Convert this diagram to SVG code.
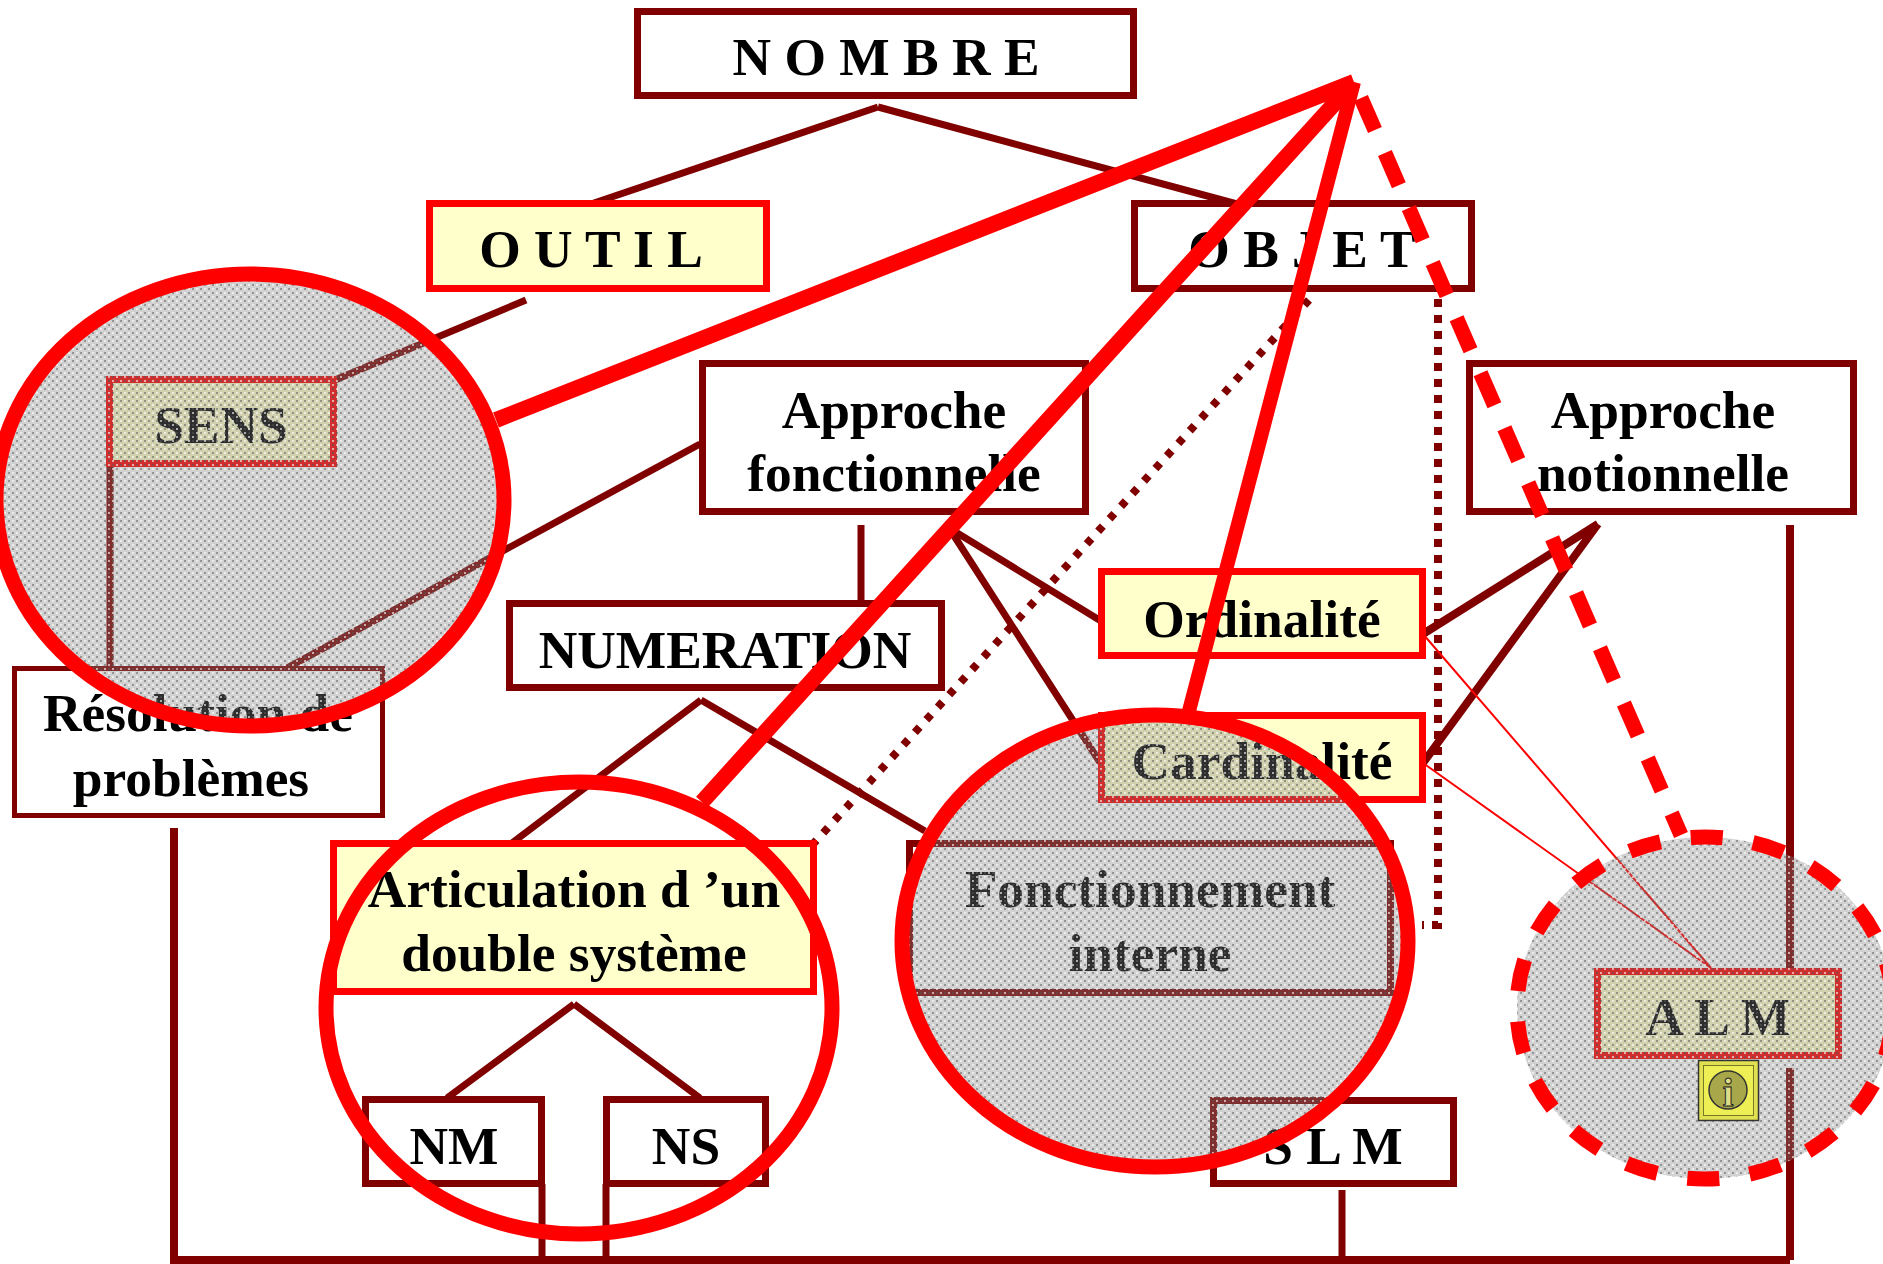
<svg xmlns="http://www.w3.org/2000/svg" width="1883" height="1264" viewBox="0 0 1883 1264">
<style>
text{font-family:"Liberation Serif","Times New Roman",serif;font-weight:bold;font-size:53.4px;fill:#000;text-anchor:middle}
.box{fill:#fff;stroke:#800000;stroke-width:7}
.thin{fill:#fff;stroke:#800000;stroke-width:5}
.hi{fill:#ffffcc;stroke:#ff0000;stroke-width:7}
.c{stroke:#800000;stroke-width:7;fill:none}
.w{stroke:#800000;stroke-width:8;fill:none}
.dot{stroke:#800000;stroke-width:8;fill:none;stroke-dasharray:7 10}
.dotv{stroke:#800000;stroke-width:8;fill:none;stroke-dasharray:8 8}
.tr{stroke:#ff0000;stroke-width:2;fill:none}
.r{stroke:#ff0000;stroke-width:16;fill:none}
.rf{stroke:#ff0000;stroke-width:14;fill:none}
.rd{stroke:#ff0000;stroke-width:15;fill:none;stroke-dasharray:35 25}
.call{fill:url(#hatch);stroke:#ff0000;stroke-width:15}
.calld{fill:url(#hatch);stroke:#ff0000;stroke-width:15;stroke-dasharray:32 30.67;stroke-dashoffset:-17}
</style>
<defs>
<pattern id="hatch" width="8" height="8" patternUnits="userSpaceOnUse">
<rect width="8" height="8" fill="#808080" fill-opacity="0.36"/>
<rect x="0" y="0" width="2" height="2" fill="#555" fill-opacity="0.5"/>
<rect x="4" y="4" width="2" height="2" fill="#555" fill-opacity="0.5"/>
<rect x="4" y="0" width="2" height="2" fill="#fff" fill-opacity="0.6"/>
<rect x="0" y="4" width="2" height="2" fill="#fff" fill-opacity="0.6"/>
</pattern>
</defs>
<g id="connectors">
<path class="c" d="M878 107L591 204M878 107L1237 204"/>
<path class="c" d="M526 300L335 380"/>
<path class="c" d="M110 467V668"/>
<path class="c" d="M700 444L287 668"/>
<path class="c" d="M861 525V603"/>
<path class="c" d="M949 528L1101 621M949 528L1101 764"/>
<path class="c" d="M701 700L512 843M701 700L925 831"/>
<path class="c" d="M574 1004L447 1098M574 1004L700 1098"/>
<path class="w" d="M1598 524L1423 634M1598 524L1423 763"/>
<path class="w" d="M1790 525V968M1790 1068V1260"/>
<path class="w" d="M174 828V1260H1790"/>
<path class="c" d="M542 1184V1260M606 1184V1260M1342 1190V1260"/>
<path class="dot" d="M1309 300L814 843"/>
<path class="dotv" d="M1438 283V925H1422"/>
<path class="tr" d="M1423 634L1711 968M1423 763L1711 968"/>
</g>
<g id="nombre"><rect class="box" x="637.500" y="11.500" width="496" height="84"/><text x="886" y="75">N O M B R E</text></g>
<g id="outil"><rect class="hi" x="429.500" y="203.500" width="337" height="85"/><text x="591" y="267">O U T I L</text></g>
<g id="objet"><rect class="box" x="1134.500" y="203.500" width="337" height="85"/><text x="1302" y="267">O B J E T</text></g>
<g id="sens"><rect class="hi" x="109.500" y="379.500" width="224" height="84"/><text x="221" y="443">SENS</text></g>
<g id="resolution"><rect class="thin" x="14.500" y="668.500" width="368" height="147"/><text x="198" y="731">Résolution de</text><text x="191" y="796">problèmes</text></g>
<g id="approche-fonctionnelle"><rect class="box" x="702.500" y="363.500" width="383" height="148"/><text x="894" y="428">Approche</text><text x="894" y="491">fonctionnelle</text></g>
<g id="approche-notionnelle"><rect class="box" x="1469.500" y="363.500" width="384" height="148"/><text x="1663" y="428">Approche</text><text x="1663" y="491">notionnelle</text></g>
<g id="numeration"><rect class="box" x="509.500" y="603.500" width="432" height="84"/><text x="725" y="668">NUMERATION</text></g>
<g id="ordinalite"><rect class="hi" x="1101.500" y="571.500" width="321" height="84"/><text x="1262" y="637">Ordinalité</text></g>
<g id="cardinalite"><rect class="hi" x="1101.500" y="715.500" width="321" height="84"/><text x="1262" y="779">Cardinalité</text></g>
<g id="articulation"><rect class="hi" x="333.500" y="843.500" width="480" height="148"/><text x="574" y="907">Articulation d ’un</text><text x="574" y="971">double système</text></g>
<g id="fonctionnement"><rect class="box" x="909.500" y="843.500" width="481" height="149"/><text x="1150" y="907">Fonctionnement</text><text x="1150" y="971">interne</text></g>
<g id="nm"><rect class="box" x="365.500" y="1099.500" width="176" height="84"/><text x="454" y="1164">NM</text></g>
<g id="ns"><rect class="box" x="606.500" y="1099.500" width="159" height="84"/><text x="686" y="1164">NS</text></g>
<g id="slm"><rect class="box" x="1213.500" y="1100.500" width="240" height="83"/><text x="1333" y="1164">S L M</text></g>
<g id="alm"><rect class="hi" x="1597.500" y="971.500" width="241" height="84"/><text x="1718" y="1035">A L M</text></g>
<g id="callouts">
<ellipse class="call" cx="250" cy="500" rx="254" ry="226"/>
<ellipse class="call" cx="1155" cy="941" rx="253" ry="226"/>
<ellipse fill="none" stroke="#ff0000" stroke-width="15" cx="579" cy="1008" rx="253" ry="226"/>
<ellipse class="calld" cx="1705" cy="1008" rx="188" ry="171"/>
<path class="r" d="M1354 82L496 420M1354 82L702 802"/>
<path class="rf" d="M1354 82L1189 711"/>
<path class="rd" d="M1361 98L1681 835"/>
</g>
<g id="info">
<rect x="1698.500" y="1060.500" width="60" height="60" fill="#e0e050" stroke="#333" stroke-width="1.500"/>
<rect x="1703.500" y="1065.500" width="50" height="50" fill="#eeee55" stroke="#77772a" stroke-width="1"/>
<circle cx="1728" cy="1090" r="19" fill="#a8a84a" stroke="#333" stroke-width="1.500"/>
<text x="1728" y="1106" style="font-size:40px;fill:#dddd88;stroke:#222;stroke-width:1">i</text>
</g>
</svg>
